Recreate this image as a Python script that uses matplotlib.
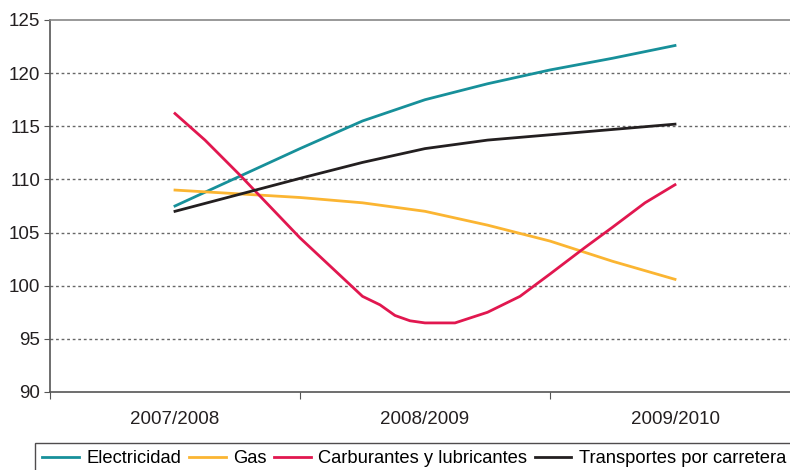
import numpy as np
import matplotlib.pyplot as plt

plt.rcParams['font.family'] = ['Liberation Sans', 'DejaVu Sans']

campanas = ['2007/2008', '2008/2009', '2009/2010']

# posiciones en unidades de categoria (0 = 2007/2008 ... 2 = 2009/2010)
x_elec = [0, 0.5, 0.75, 1.0, 1.25, 1.5, 1.75, 2.0]
electricidad = [107.5, 112.9, 115.5, 117.5, 119.0, 120.3, 121.4, 122.6]

x_gas = [0, 0.5, 0.75, 1.0, 1.25, 1.5, 1.75, 2.0]
gas = [109.0, 108.3, 107.8, 107.0, 105.7, 104.2, 102.3, 100.6]

x_carb = [0, 0.12, 0.26, 0.5, 0.75, 0.82, 0.88, 0.94, 1.0, 1.12, 1.25,
          1.38, 1.5, 1.64, 1.75, 1.88, 2.0]
carburantes = [116.2, 113.7, 110.4, 104.5, 99.0, 98.2, 97.2, 96.7, 96.5, 96.5,
               97.5, 99.0, 101.1, 103.6, 105.5, 107.8, 109.5]

x_trans = [0, 0.5, 0.75, 1.0, 1.25, 1.5, 1.75, 2.0]
transportes = [107.0, 110.1, 111.6, 112.9, 113.7, 114.2, 114.7, 115.2]

fig = plt.figure(figsize=(7.9, 4.7), dpi=100)
ax = fig.add_axes([50/790, 78/470, 750/790, 372/470])

ax.plot(x_elec, electricidad, color='#17909a', lw=2, label='Electricidad')
ax.plot(x_gas, gas, color='#fbb532', lw=2, label='Gas')
ax.plot(x_carb, carburantes, color='#e1174f', lw=2, label='Carburantes y lubricantes')
ax.plot(x_trans, transportes, color='#231f20', lw=2, label='Transportes por carretera')

ax.set_xlim(-0.5, 2.5)
ax.set_ylim(90, 125)
ax.set_yticks(np.arange(90, 126, 5))
ax.set_xticks([-0.5, 0.5, 1.5, 2.5])
ax.set_xticklabels([])
ax.set_xticks([0, 1, 2], minor=True)
ax.set_xticklabels(campanas, minor=True)
ax.tick_params(axis='x', which='minor', length=0, pad=14, labelsize=13.5, colors='#231f20')
ax.tick_params(axis='x', which='major', length=5, direction='out', color='#555555')
ax.tick_params(axis='y', length=4, direction='out', color='#555555', labelsize=13.5, labelcolor='#231f20', pad=3)

for y in range(95, 125, 5):
    ax.axhline(y, color='#666666', lw=1, ls=(0, (2, 2)), zorder=0)

ax.spines['left'].set_color('#555555')
ax.spines['bottom'].set_color('#555555')
ax.spines['top'].set_color('#888888')
ax.spines['right'].set_visible(False)
for s in ax.spines.values():
    s.set_linewidth(1.2)

leg = fig.legend(loc='upper left', bbox_to_anchor=(35/790, 1 - 443/470), ncol=4,
                 fontsize=13.2, handlelength=2.0, handletextpad=0.4, columnspacing=0.42,
                 borderaxespad=0, borderpad=0.4, fancybox=False, frameon=True)
leg.get_frame().set_edgecolor('#231f20')
leg.get_frame().set_linewidth(1)

fig.savefig('out.png', dpi=100)
